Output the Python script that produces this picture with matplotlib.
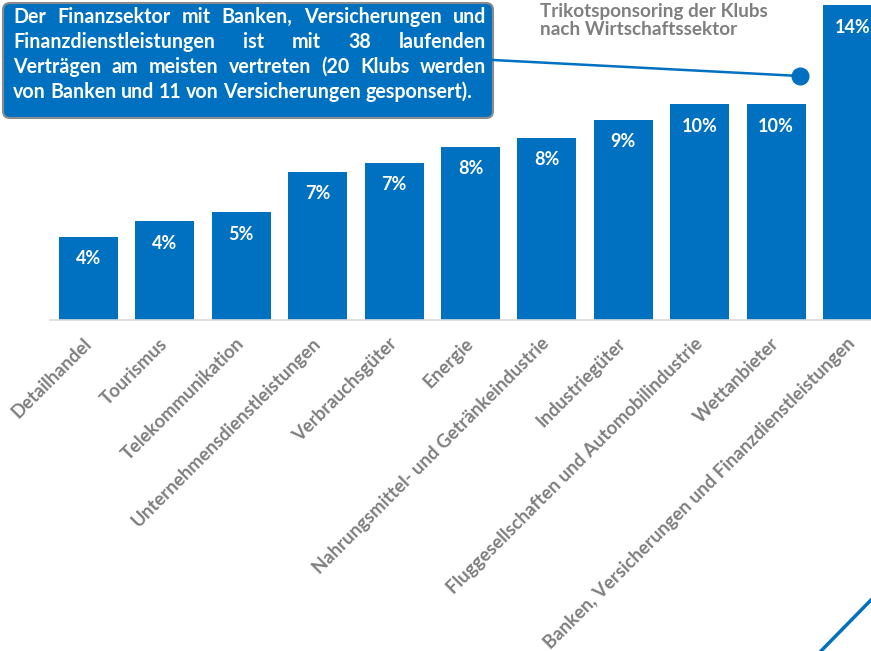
import matplotlib.pyplot as plt
from matplotlib.patches import FancyBboxPatch
from matplotlib.lines import Line2D

plt.rcParams['font.family'] = ['Lato', 'DejaVu Sans']

# Daten: Anteil der Trikotsponsoring-Verträge nach Wirtschaftssektor (%)
sektoren = ['Detailhandel', 'Tourismus', 'Telekommunikation',
            'Unternehmensdienstleistungen', 'Verbrauchsgüter', 'Energie',
            'Nahrungsmittel- und Getränkeindustrie', 'Industriegüter',
            'Fluggesellschaften und Automobilindustrie', 'Wettanbieter',
            'Banken, Versicherungen und Finanzdienstleistungen']
anteile = [3.7, 4.4, 4.8, 6.6, 7.0, 7.7, 8.1, 8.9, 9.6, 9.6, 14.0]
beschriftung = ['4%', '4%', '5%', '7%', '7%', '8%', '8%', '9%', '10%', '10%', '14%']

titel = 'Trikotsponsoring der Klubs\nnach Wirtschaftssektor'
box_zeilen = ['Der Finanzsektor mit Banken, Versicherungen und',
              'Finanzdienstleistungen ist mit 38 laufenden',
              'Verträgen am meisten vertreten (20 Klubs werden',
              'von Banken und 11 von Versicherungen gesponsert).']

blau = '#0070C0'
grau = '#7f7f7f'

W, H = 871, 651
fig = plt.figure(figsize=(W / 100, H / 100), dpi=100)

px_pro_prozent = 22.5
ymax = 14.5
ax = fig.add_axes([50.3 / W, (H - 320) / H, 840.4 / W, ymax * px_pro_prozent / H])
ax.bar(range(len(anteile)), anteile, width=0.77, color=blau)
ax.set_xlim(-0.5, 10.5)
ax.set_ylim(0, ymax)
for s in ['top', 'right', 'left']:
    ax.spines[s].set_visible(False)
ax.spines['bottom'].set_color('#d9d9d9')
ax.spines['bottom'].set_linewidth(1.2)
ax.set_yticks([])
ax.tick_params(axis='x', length=0, pad=15)
ax.set_xticks(range(len(sektoren)))
ax.set_xticklabels(sektoren, rotation=45, ha='right', va='center',
                   rotation_mode='anchor', color=grau, fontsize=13.3,
                   fontweight='bold')

# Werte in den Balken
for i, (v, t) in enumerate(zip(anteile, beschriftung)):
    ax.annotate(t, (i, v), xytext=(0, -16), textcoords='offset points',
                ha='center', va='center', color='white', fontsize=13,
                fontweight='bold', annotation_clip=False)

# Titel
fig.text(540 / W, 1 - 3 / H, titel, ha='left', va='top', color=grau,
         fontsize=13.6, fontweight='bold', linespacing=1.1)

# Verbindungslinie mit Punkt
fig.add_artist(Line2D([493 / W, 800 / W], [1 - 60 / H, 1 - 76 / H],
                      color=blau, lw=1.8, transform=fig.transFigure))
fig.add_artist(Line2D([800 / W], [1 - 76 / H], marker='o', markersize=12,
                      color=blau, transform=fig.transFigure))

# diagonale Linie unten rechts
fig.add_artist(Line2D([821 / W, 871 / W], [0, 51 / H], color=blau, lw=2.5,
                      transform=fig.transFigure))

# Textbox
box = FancyBboxPatch((3 / W, 1 - 118 / H), 490 / W, 115 / H,
                     boxstyle='round,pad=0,rounding_size=0.008',
                     facecolor=blau, edgecolor='#8c8c8c', lw=1.5,
                     transform=fig.transFigure, mutation_aspect=W / H)
fig.add_artist(box)

renderer = fig.canvas.get_renderer()
x0, x1 = 13, 486
zeilen_y = [17, 42, 67, 92]
fs_box = 14.1
for n, (zeile, y) in enumerate(zip(box_zeilen, zeilen_y)):
    woerter = zeile.split()
    texte = [fig.text(x0 / W, 1 - y / H, w, ha='left', va='center',
                      color='white', fontsize=fs_box, fontweight='bold')
             for w in woerter]
    breiten = [t.get_window_extent(renderer).width for t in texte]
    if n < len(box_zeilen) - 1:
        luecke = (x1 - x0 - sum(breiten)) / (len(woerter) - 1)
    else:
        luecke = 4.5
    x = x0
    for t, b in zip(texte, breiten):
        t.set_x(x / W)
        x += b + luecke

fig.savefig('out.png', dpi=100)
